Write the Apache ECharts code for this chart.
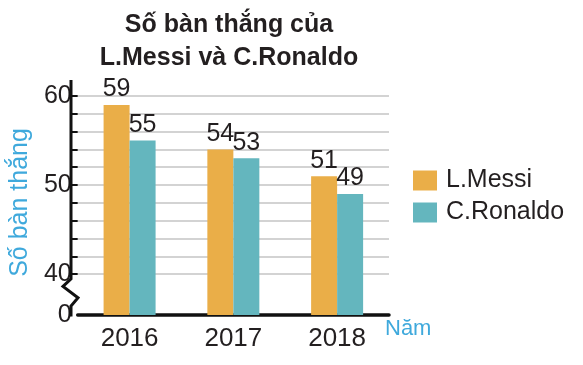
<!DOCTYPE html>
<html><head><meta charset="utf-8">
<script src="https://cdn.jsdelivr.net/npm/echarts@6/dist/echarts.min.js"></script>
<style>html,body{margin:0;padding:0;background:#fff}#c{width:583px;height:365px}</style>
</head><body><div id="c"></div>
<script>
const categories = ['2016', '2017', '2018'];
const messi = [59, 54, 51];
const ronaldo = [55, 53, 49];
const gridTicks = [40, 42, 44, 46, 48, 50, 52, 54, 56, 58, 60];
const labelTicks = [40, 50, 60];
const yMin = 35.4;   // position of the "0" baseline after the axis break
const yMax = 61.8;
const breakAt = 40;

const FONT = 'Liberation Sans, Arial, sans-serif';
const chart = echarts.init(document.getElementById('c'));
const option = {
  animation: false,
  title: {
    text: 'Số bàn thắng của\nL.Messi và C.Ronaldo',
    left: 229, top: 9, textAlign: 'center', padding: 0,
    textStyle: { fontFamily: FONT, fontSize: 25, fontWeight: 'bold', color: '#231f20', lineHeight: 33 }
  },
  legend: {
    orient: 'vertical', left: 408, top: 163, itemWidth: 24, itemHeight: 20, itemGap: 7,
    icon: 'rect',
    textStyle: { fontFamily: FONT, fontSize: 25, color: '#231f20', padding: [0, 0, 0, 4] },
    data: ['L.Messi', 'C.Ronaldo']
  },
  grid: { left: 71, top: 80, width: 318, bottom: 50, containLabel: false },
  xAxis: {
    type: 'category', data: categories,
    axisLine: { lineStyle: { color: '#111', width: 3.5 } },
    axisTick: { show: false },
    axisLabel: { fontFamily: FONT, fontSize: 26, color: '#231f20', margin: 11 },
    name: 'Năm', nameLocation: 'end', nameGap: -4,
    nameTextStyle: { fontFamily: FONT, fontSize: 22, color: '#3fa9dc', align: 'left', verticalAlign: 'top', padding: [3, 0, 0, 0] }
  },
  yAxis: {
    type: 'value', min: yMin, max: yMax,
    axisLine: { show: false },
    axisTick: { show: true, inside: false, length: 6, customValues: gridTicks, lineStyle: { color: '#111', width: 2 } },
    axisLabel: {
      customValues: [yMin].concat(labelTicks), margin: 6,
      fontFamily: FONT, fontSize: 25, color: '#231f20',
      formatter: v => (Math.abs(v - yMin) < 1e-6 ? '0' : String(v))
    },
    splitLine: { show: true, lineStyle: { color: '#c4c4c4', width: 1.5 } },
    name: 'Số bàn thắng', nameLocation: 'middle', nameRotate: 90, nameGap: 44,
    nameTextStyle: { fontFamily: FONT, fontSize: 25, color: '#3fa9dc', padding: [0, 10, 0, 0] }
  },
  series: [
    {
      name: 'L.Messi', type: 'bar', data: messi, barWidth: 26, barGap: '0%',
      itemStyle: { color: '#eaae48' },
      label: { show: true, position: 'top', distance: 3, fontFamily: FONT, fontSize: 25, color: '#231f20' }
    },
    {
      name: 'C.Ronaldo', type: 'bar', data: ronaldo, barWidth: 26,
      itemStyle: { color: '#64b6be' },
      label: { show: true, position: 'top', distance: 3, fontFamily: FONT, fontSize: 25, color: '#231f20' }
    }
  ]
};
chart.setOption(option);

// broken y axis line with zigzag between the baseline and 40
const px = v => chart.convertToPixel({ gridIndex: 0 }, [categories[0], v]);
const x0 = 71;
const yTop = px(yMax)[1];
const y40 = px(breakAt)[1];
const yBot = px(yMin)[1];
const seg = (yBot - y40);
chart.setOption({
  graphic: [{
    type: 'polyline', z: 100,
    shape: { points: [
      [x0, yTop], [x0, y40 + seg * 0.12], [x0 - 8, y40 + seg * 0.3],
      [x0 + 7, y40 + seg * 0.58], [x0, y40 + seg * 0.78], [x0, yBot + 1.5]
    ] },
    style: { stroke: '#111', lineWidth: 3, fill: null, lineJoin: 'miter' }
  }]
});
</script></body></html>
